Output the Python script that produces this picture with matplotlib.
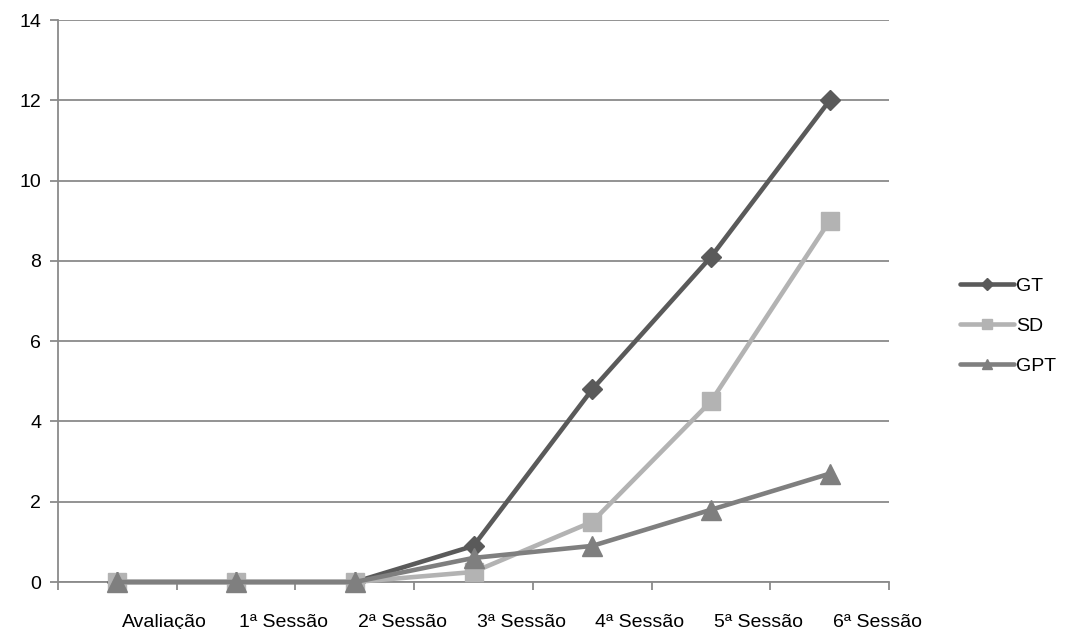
import matplotlib.pyplot as plt
from matplotlib.lines import Line2D

plt.rcParams['font.family'] = ['Liberation Sans', 'DejaVu Sans']

categories = ['Avaliação', '1ª Sessão', '2ª Sessão', '3ª Sessão',
              '4ª Sessão', '5ª Sessão', '6ª Sessão']
gt = [0, 0, 0, 0.9, 4.8, 8.1, 12]
sd = [0, 0, 0, 0.25, 1.5, 4.5, 9]
gpt = [0, 0, 0, 0.6, 0.9, 1.8, 2.7]

series = [
    ('GT', gt, '#5a5a5a', 'D', 10.5),
    ('SD', sd, '#b3b3b3', 's', 13),
    ('GPT', gpt, '#7f7f7f', '^', 14),
]

grid_col = '#8a8a8a'

fig = plt.figure(figsize=(10.66, 6.29), dpi=100)
ax = fig.add_axes([0.0544, 0.0747, 0.7796, 0.8933])

x = list(range(len(categories)))
for name, vals, col, mk, ms in series:
    ax.plot(x, vals, color=col, lw=3.3, marker=mk, markersize=ms,
            solid_capstyle='round', zorder=3, clip_on=False)

ax.set_xlim(-0.5, len(categories) - 0.5)
ax.set_ylim(0, 14)
ax.set_yticks(range(0, 15, 2))
ax.yaxis.grid(True, color=grid_col, lw=1.3)
ax.set_axisbelow(True)

# boundary tick marks, labels shifted right like the original
ax.set_xticks([i - 0.5 for i in range(len(categories) + 1)])
ax.set_xticklabels([])
ax.set_xticks([i + 0.4 for i in x], minor=True)
ax.set_xticklabels(categories, minor=True)
ax.tick_params(axis='x', which='minor', length=0, pad=23, labelsize=14)
ax.tick_params(axis='x', which='major', length=6, width=1.3, color=grid_col)
ax.tick_params(axis='y', length=6, width=1.3, color=grid_col, pad=6,
               labelsize=14)

for s in ['top', 'right']:
    ax.spines[s].set_visible(False)
for s in ['left', 'bottom']:
    ax.spines[s].set_color(grid_col)
    ax.spines[s].set_linewidth(1.3)

handles = [Line2D([0], [0], color=col, lw=3.3, marker=mk, markersize=ms * 0.55,
                  solid_capstyle='round')
           for name, vals, col, mk, ms in series]
fig.legend(handles, [s[0] for s in series], loc='center left',
           bbox_to_anchor=(0.893, 0.481), frameon=False, fontsize=14,
           handlelength=2.8, handletextpad=0.1, labelspacing=1.15,
           borderaxespad=0)

fig.savefig('out.png', dpi=100)
